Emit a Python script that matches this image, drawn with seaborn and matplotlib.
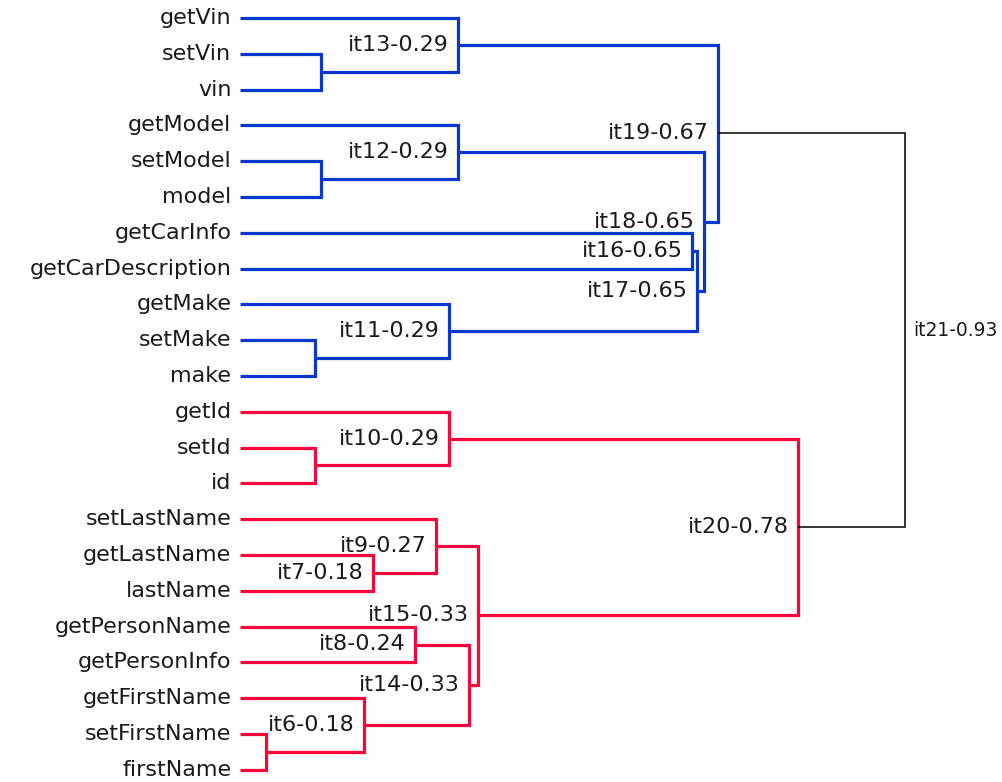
import numpy as np
import pandas as pd
import seaborn as sns
import matplotlib.pyplot as plt

# -------------------------------
# Data: leaves (top to bottom) and merge steps
# -------------------------------
leaves = [
    "getVin", "setVin", "vin", "getModel", "setModel", "model",
    "getCarInfo", "getCarDescription", "getMake", "setMake", "make",
    "getId", "setId", "id", "setLastName", "getLastName", "lastName",
    "getPersonName", "getPersonInfo", "getFirstName", "setFirstName", "firstName",
]

merge_names = [f"it{i}" for i in range(1, 22)]
merge_left = [
    "setVin", "setModel", "setMake", "setId", "setFirstName",
    "getFirstName", "getLastName", "getPersonName", "setLastName", "getId",
    "getMake", "getModel", "getVin", "it8", "it9",
    "getCarInfo", "it16", "it12", "it13", "it10", "it19",
]
merge_right = [
    "vin", "model", "make", "id", "firstName",
    "it5", "lastName", "getPersonInfo", "it7", "it4",
    "it3", "it2", "it1", "it6", "it14",
    "getCarDescription", "it11", "it17", "it18", "it15", "it20",
]
# merge heights (distance) as drawn
merge_height = [
    0.113, 0.113, 0.105, 0.105, 0.036,
    0.173, 0.186, 0.245, 0.274, 0.292,
    0.292, 0.305, 0.305, 0.320, 0.333,
    0.632, 0.639, 0.649, 0.669, 0.780, 0.930,
]
# values printed in the labels (first five merges are not labelled)
merge_shown = [
    None, None, None, None, None,
    0.18, 0.18, 0.24, 0.27, 0.29,
    0.29, 0.29, 0.29, 0.33, 0.33,
    0.65, 0.65, 0.65, 0.67, 0.78, 0.93,
]
merge_group = [
    "car", "car", "car", "person", "person",
    "person", "person", "person", "person", "person",
    "car", "car", "car", "person", "person",
    "car", "car", "car", "car", "person", "root",
]

palette = {"car": "#0a37d0", "person": "#f5073d"}

# -------------------------------
# Build U-shaped link segments
# -------------------------------
pos = {name: (0.0, float(i)) for i, name in enumerate(leaves)}
rows = []
for name, a, b, h, g in zip(merge_names, merge_left, merge_right, merge_height, merge_group):
    xa, ya = pos[a]
    xb, yb = pos[b]
    for x, y in [(xa, ya), (h, ya), (h, yb), (xb, yb)]:
        rows.append({"link": name, "group": g, "x": x, "y": y})
    pos[name] = (h, (ya + yb) / 2)
segs = pd.DataFrame(rows)

# -------------------------------
# Plot
# -------------------------------
sns.set_theme(style="white")
plt.rcParams["font.family"] = ["DejaVu Sans"]

fig = plt.figure(figsize=(10.03, 7.82), dpi=100)
ax = fig.add_axes([0, 0, 1, 1])

sns.lineplot(
    data=segs[segs["group"] != "root"],
    x="x", y="y", hue="group", units="link",
    estimator=None, sort=False, palette=palette,
    linewidth=2.3, legend=False, ax=ax,
    solid_joinstyle="miter", solid_capstyle="butt",
)
sns.lineplot(
    data=segs[segs["group"] == "root"],
    x="x", y="y", units="link",
    estimator=None, sort=False, color="black",
    linewidth=1.1, legend=False, ax=ax,
    solid_joinstyle="miter", solid_capstyle="butt",
)

# leaf labels
for i, name in enumerate(leaves):
    ax.text(-0.012, i, name, ha="right", va="center", fontsize=16, color="#1a1a1a")

# merge labels
for name, shown in zip(merge_names, merge_shown):
    if shown is None:
        continue
    x, y = pos[name]
    if name == "it21":
        ax.text(x + 0.011, y, f"{name}-{shown:.2f}", ha="left", va="center",
                fontsize=13.5, color="#1a1a1a")
    else:
        ax.text(x - 0.013, y, f"{name}-{shown:.2f}", ha="right", va="center",
                fontsize=16, color="#1a1a1a")

ax.set_xlim(-240 / 715, 763 / 715)
ax.set_ylim((782 - 18) / 35.8, -18 / 35.8)
ax.axis("off")

fig.savefig("out.png", dpi=100)
